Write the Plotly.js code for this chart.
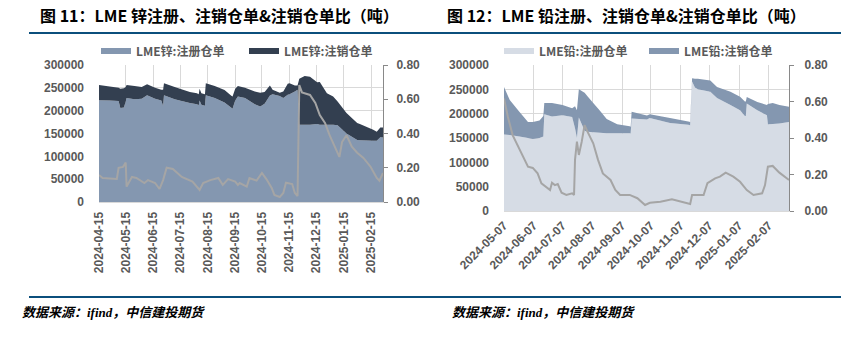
<!DOCTYPE html>
<html>
<head>
<meta charset="utf-8">
<script src="https://cdn.plot.ly/plotly-3.0.1.min.js"></script>
<style>html,body{margin:0;padding:0;background:#fff;overflow:hidden;}#chart{width:850px;height:361px;}</style>
</head>
<body>
<div id="chart"></div>
<script>
// ---------- LME 锌 (zinc) ----------
const zincDates = ['2024-04-15','2024-04-27','2024-05-07','2024-05-09','2024-05-13','2024-05-15','2024-05-16','2024-05-25','2024-06-02','2024-06-08','2024-06-17','2024-06-24','2024-06-26','2024-06-27','2024-07-09','2024-07-26','2024-08-03','2024-08-05','2024-08-06','2024-08-08','2024-08-12','2024-08-13','2024-08-23','2024-09-03','2024-09-11','2024-09-12','2024-09-15','2024-09-18','2024-09-26','2024-10-07','2024-10-13','2024-10-18','2024-10-24','2024-10-27','2024-11-04','2024-11-08','2024-11-13','2024-11-15','2024-11-21','2024-11-24','2024-11-26','2024-12-02','2024-12-08','2024-12-16','2024-12-19','2024-12-27','2025-01-03','2025-01-08','2025-01-18','2025-01-30','2025-02-02','2025-02-17','2025-02-21','2025-02-25','2025-02-28'];
const zincRegistered = [223000,222000,221000,206000,207000,220000,228000,225000,226000,234000,226000,222000,210000,234000,225000,217000,214000,212000,222000,213000,211000,234000,228000,218000,206000,204000,222000,231000,228000,214000,209000,215000,233000,236000,232000,228000,235000,236000,242000,246000,169000,169000,169000,171000,169000,169000,169000,168000,150000,136000,135000,134000,134000,142000,141000];
const zincCancelled = [33000,31000,29000,42000,42000,32000,28000,29000,26000,24000,24000,24000,36000,26000,27000,24000,24000,24000,26000,25000,25000,26000,26000,27000,26000,27000,26000,23000,22000,28000,30000,26000,22000,10000,7000,14000,24000,24000,13000,9000,101000,107000,105000,91000,94000,69000,62000,52000,45000,37000,36000,24000,20000,21000,22000];
const zincRatioDates = ['2024-04-15','2024-04-19','2024-05-05','2024-05-07','2024-05-12','2024-05-15','2024-05-16','2024-05-22','2024-05-27','2024-06-05','2024-06-09','2024-06-17','2024-06-22','2024-06-26','2024-06-30','2024-07-07','2024-07-17','2024-07-29','2024-08-06','2024-08-10','2024-08-18','2024-08-27','2024-09-01','2024-09-07','2024-09-15','2024-09-18','2024-09-20','2024-09-28','2024-10-01','2024-10-09','2024-10-15','2024-10-20','2024-10-26','2024-10-29','2024-11-04','2024-11-08','2024-11-11','2024-11-18','2024-11-21','2024-11-24','2024-11-26','2024-11-29','2024-12-08','2024-12-14','2024-12-19','2024-12-25','2024-12-30','2025-01-07','2025-01-10','2025-01-13','2025-01-18','2025-01-24','2025-01-30','2025-02-06','2025-02-14','2025-02-21','2025-02-24','2025-02-28'];
const zincRatio = [0.158,0.14,0.134,0.2,0.205,0.23,0.09,0.146,0.14,0.111,0.128,0.111,0.076,0.128,0.2,0.193,0.146,0.119,0.07,0.111,0.128,0.14,0.1,0.134,0.119,0.1,0.111,0.09,0.14,0.125,0.17,0.134,0.082,0.041,0.029,0.053,0.113,0.105,0.053,0.035,0.683,0.64,0.625,0.578,0.508,0.46,0.39,0.304,0.263,0.35,0.39,0.323,0.288,0.257,0.206,0.14,0.124,0.17];
const zincTicks = ['2024-04-15','2024-05-15','2024-06-15','2024-07-15','2024-08-15','2024-09-15','2024-10-15','2024-11-15','2024-12-15','2025-01-15','2025-02-15'];

// ---------- LME 铅 (lead) ----------
const leadDates = ['2024-05-07','2024-05-13','2024-05-23','2024-06-01','2024-06-06','2024-06-13','2024-06-17','2024-06-18','2024-06-26','2024-07-07','2024-07-17','2024-07-20','2024-07-22','2024-07-24','2024-07-30','2024-08-02','2024-08-08','2024-08-15','2024-08-22','2024-09-02','2024-09-15','2024-09-16','2024-09-17','2024-10-03','2024-10-06','2024-10-27','2024-11-15','2024-11-17','2024-11-19','2024-11-22','2024-11-25','2024-12-08','2024-12-15','2024-12-29','2025-01-08','2025-01-13','2025-01-14','2025-01-15','2025-01-26','2025-02-05','2025-02-06','2025-02-11','2025-02-18','2025-02-28'];
const leadRegistered = [157000,156000,153000,150000,148000,150000,153000,199000,194000,197000,193000,170000,150000,192000,165000,163000,162000,161000,160000,160000,160000,159000,190000,188000,191000,181000,177000,176000,266000,254000,250000,245000,232000,218000,207000,195000,195000,221000,207000,197000,178000,179000,180000,183000];
const leadCancelled = [98000,72000,51000,33000,35000,36000,42000,23000,28000,21000,18000,45000,57000,58000,78000,73000,60000,45000,29000,18000,14000,14000,14000,8000,8000,10000,7000,7000,7000,18000,22000,23000,23000,27000,28000,30000,30000,13000,17000,21000,42000,43000,38000,31000];
const leadRatioDates = ['2024-05-07','2024-05-11','2024-05-16','2024-05-21','2024-05-26','2024-06-01','2024-06-06','2024-06-11','2024-06-15','2024-06-21','2024-06-24','2024-06-26','2024-06-29','2024-07-02','2024-07-06','2024-07-11','2024-07-17','2024-07-19','2024-07-20','2024-07-22','2024-07-24','2024-07-27','2024-07-30','2024-08-02','2024-08-08','2024-08-13','2024-08-18','2024-08-26','2024-08-31','2024-09-05','2024-09-15','2024-09-23','2024-09-29','2024-10-01','2024-10-06','2024-10-17','2024-10-29','2024-11-07','2024-11-17','2024-11-19','2024-12-01','2024-12-05','2024-12-13','2024-12-18','2024-12-24','2025-01-01','2025-01-08','2025-01-15','2025-01-22','2025-01-31','2025-02-03','2025-02-06','2025-02-11','2025-02-18','2025-02-28'];
const leadRatio = [0.617,0.517,0.416,0.362,0.307,0.243,0.236,0.206,0.152,0.124,0.115,0.155,0.142,0.148,0.1,0.088,0.097,0.088,0.28,0.38,0.307,0.38,0.471,0.435,0.371,0.28,0.206,0.17,0.115,0.088,0.088,0.07,0.038,0.033,0.045,0.051,0.064,0.051,0.038,0.088,0.088,0.152,0.179,0.188,0.21,0.188,0.16,0.115,0.088,0.097,0.142,0.243,0.247,0.21,0.17];
const leadTicks = ['2024-05-07','2024-06-07','2024-07-07','2024-08-07','2024-09-07','2024-10-07','2024-11-07','2024-12-07','2025-01-07','2025-02-07'];

// ---------- text ----------
const titleLeft = '图 11：LME 锌注册、注销仓单&注销仓单比（吨）';
const titleRight = '图 12：LME 铅注册、注销仓单&注销仓单比（吨）';
const sourceText = '数据来源：ifind，中信建投期货';
const zincNames = ['LME锌:注册仓单', 'LME锌:注销仓单'];
const leadNames = ['LME铅:注册仓单', 'LME铅:注销仓单'];

const W = 850, H = 361;
const px = x => x / W;
const py = y => 1 - y / H;

const tickFont = {family: 'Liberation Sans, Arial, sans-serif', size: 12, color: '#595959', weight: 'bold'};
const legFont = {family: 'Noto Sans CJK SC, sans-serif', size: 12, color: '#595959', weight: 'bold'};
const grid = '#D9D9D9';

const traces = [
  {x: zincDates, y: zincRegistered, name: zincNames[0], type: 'scatter', mode: 'none', stackgroup: 'zinc',
   fillcolor: '#8497B0', xaxis: 'x', yaxis: 'y', legend: 'legend', hoverinfo: 'skip'},
  {x: zincDates, y: zincCancelled, name: zincNames[1], type: 'scatter', mode: 'none', stackgroup: 'zinc',
   fillcolor: '#333F50', xaxis: 'x', yaxis: 'y', legend: 'legend', hoverinfo: 'skip'},
  {x: zincRatioDates, y: zincRatio, name: '注销仓单比', type: 'scatter', mode: 'lines',
   line: {color: '#A5A5A5', width: 2}, xaxis: 'x', yaxis: 'y2', showlegend: false},
  {x: leadDates, y: leadRegistered, name: leadNames[0], type: 'scatter', mode: 'none', stackgroup: 'lead',
   fillcolor: '#D6DCE5', xaxis: 'x2', yaxis: 'y3', legend: 'legend2', hoverinfo: 'skip'},
  {x: leadDates, y: leadCancelled, name: leadNames[1], type: 'scatter', mode: 'none', stackgroup: 'lead',
   fillcolor: '#8497B0', xaxis: 'x2', yaxis: 'y3', legend: 'legend2', hoverinfo: 'skip'},
  {x: leadRatioDates, y: leadRatio, name: '注销仓单比', type: 'scatter', mode: 'lines',
   line: {color: '#A5A5A5', width: 2}, xaxis: 'x2', yaxis: 'y4', showlegend: false}
];

const xBase = {type: 'date', tickformat: '%Y-%m-%d', showgrid: true, gridcolor: grid, gridwidth: 1,
  showline: true, linecolor: grid, ticks: '', tickfont: tickFont, zeroline: false, fixedrange: true, automargin: false};
const yLeftBase = {range: [0, 300000], dtick: 50000, tick0: 0, tickformat: 'd', showgrid: true, gridcolor: grid,
  showline: false, zeroline: false, ticks: '', tickfont: tickFont, ticklabelstandoff: 14, fixedrange: true, automargin: false};
const yRightBase = {range: [0, 0.8], dtick: 0.2, tick0: 0, tickformat: '.2f', showgrid: false, showline: true,
  linecolor: '#898989', ticks: 'outside', ticklen: 4, tickcolor: '#898989', zeroline: false, tickfont: tickFont,
  side: 'right', fixedrange: true, automargin: false};

const layout = {
  width: W, height: H,
  margin: {l: 0, r: 0, t: 0, b: 0, autoexpand: false},
  paper_bgcolor: '#ffffff', plot_bgcolor: 'rgba(0,0,0,0)',
  xaxis: Object.assign({}, xBase, {domain: [px(99), px(383)], anchor: 'y', range: ['2024-04-15', '2025-02-28'],
    tickvals: zincTicks, tickangle: -90, ticklabelstandoff: 4}),
  yaxis: Object.assign({}, yLeftBase, {domain: [py(202), py(65)], anchor: 'x'}),
  yaxis2: Object.assign({}, yRightBase, {overlaying: 'y', anchor: 'x', ticklabelstandoff: 6}),
  xaxis2: Object.assign({}, xBase, {domain: [px(504), px(789)], anchor: 'y3', range: ['2024-05-07', '2025-02-28'],
    tickvals: leadTicks, tickangle: -45, ticklabelstandoff: 2}),
  yaxis3: Object.assign({}, yLeftBase, {domain: [py(211), py(65)], anchor: 'x2'}),
  yaxis4: Object.assign({}, yRightBase, {overlaying: 'y3', anchor: 'x2', ticklabelstandoff: 8}),
  legend: {x: px(96), xanchor: 'left', y: py(51), yanchor: 'middle', orientation: 'h', traceorder: 'normal',
    entrywidth: 103, entrywidthmode: 'pixels', font: legFont, bgcolor: 'rgba(0,0,0,0)', borderwidth: 0,
    itemclick: false, itemdoubleclick: false},
  legend2: {x: px(499), xanchor: 'left', y: py(51), yanchor: 'middle', orientation: 'h', traceorder: 'normal',
    entrywidth: 100, entrywidthmode: 'pixels', font: legFont, bgcolor: 'rgba(0,0,0,0)', borderwidth: 0,
    itemclick: false, itemdoubleclick: false},
  annotations: [
    {text: titleLeft, xref: 'paper', yref: 'paper', x: px(38), y: py(15), xanchor: 'left', yanchor: 'middle',
     showarrow: false, font: {family: 'Noto Sans CJK SC, sans-serif', size: 16, color: '#000000', weight: 'bold'}},
    {text: titleRight, xref: 'paper', yref: 'paper', x: px(445), y: py(15), xanchor: 'left', yanchor: 'middle',
     showarrow: false, font: {family: 'Noto Sans CJK SC, sans-serif', size: 16, color: '#000000', weight: 'bold'}},
    {text: sourceText, xref: 'paper', yref: 'paper', x: px(20), y: py(312), xanchor: 'left', yanchor: 'middle',
     showarrow: false, font: {family: 'Liberation Serif, Noto Sans CJK SC, serif', size: 13, color: '#000000', weight: 'bold', style: 'italic'}},
    {text: sourceText, xref: 'paper', yref: 'paper', x: px(450), y: py(312), xanchor: 'left', yanchor: 'middle',
     showarrow: false, font: {family: 'Liberation Serif, Noto Sans CJK SC, serif', size: 13, color: '#000000', weight: 'bold', style: 'italic'}}
  ],
  shapes: [
    {type: 'line', xref: 'paper', yref: 'paper', x0: px(29), x1: px(425), y0: py(33), y1: py(33), line: {color: '#0B4F7C', width: 2}},
    {type: 'line', xref: 'paper', yref: 'paper', x0: px(425), x1: px(841), y0: py(33), y1: py(33), line: {color: '#0B4F7C', width: 2}},
    {type: 'line', xref: 'paper', yref: 'paper', x0: px(29), x1: px(425), y0: py(297), y1: py(297), line: {color: '#0B4F7C', width: 2}},
    {type: 'line', xref: 'paper', yref: 'paper', x0: px(425), x1: px(841), y0: py(297), y1: py(297), line: {color: '#0B4F7C', width: 2}}
  ],
  hovermode: false
};

Plotly.newPlot('chart', traces, layout, {staticPlot: true, displayModeBar: false});
</script>
</body>
</html>
